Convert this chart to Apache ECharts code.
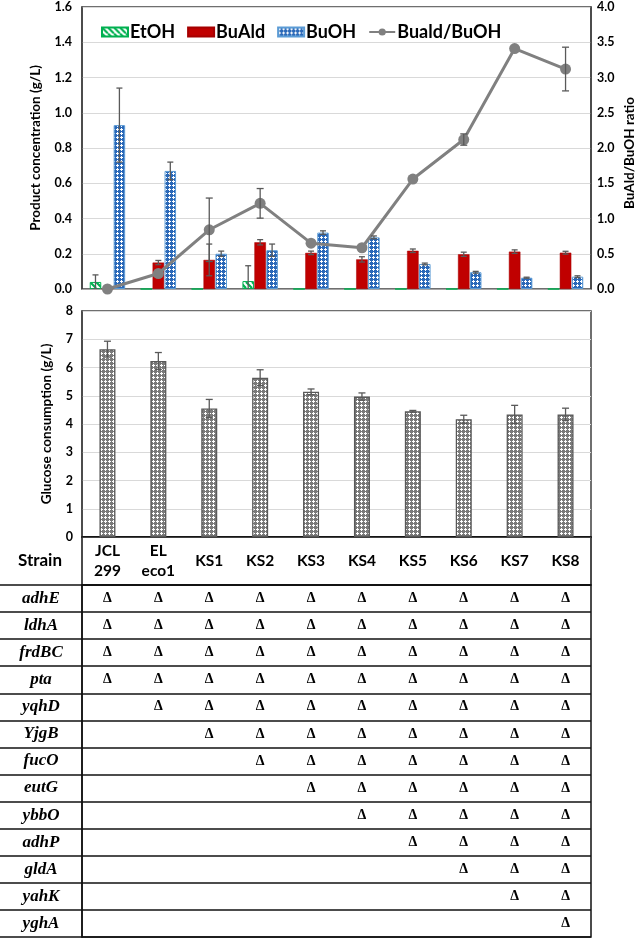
<!DOCTYPE html>
<html><head><meta charset="utf-8">
<script src="https://cdn.jsdelivr.net/npm/echarts@6/dist/echarts.min.js"></script>
<style>html,body{margin:0;padding:0;background:#fff}#c{width:638px;height:938px}</style>
</head><body><div id="c"></div><script>
// ---- data ----
const strains = ['JCL\n299','EL\neco1','KS1','KS2','KS3','KS4','KS5','KS6','KS7','KS8'];
const etoh      = [0.04, 0, 0, 0.045, 0, 0, 0, 0, 0, 0];
const etohErr   = [0.04, 0, 0, 0.087, 0, 0, 0, 0, 0, 0];
const buald     = [0, 0.15, 0.165, 0.265, 0.205, 0.168, 0.217, 0.197, 0.212, 0.206];
const bualdErr  = [0, 0.012, 0.09, 0.015, 0.01, 0.015, 0.01, 0.012, 0.01, 0.008];
const buoh      = [0.93, 0.67, 0.2, 0.22, 0.32, 0.293, 0.142, 0.095, 0.064, 0.07];
const buohErr   = [0.21, 0.05, 0.015, 0.035, 0.01, 0.008, 0.005, 0.005, 0.003, 0.005];
const ratio     = [0, 0.22, 0.84, 1.215, 0.65, 0.585, 1.56, 2.12, 3.41, 3.12];
const ratioErr  = [0, 0, 0.45, 0.21, 0, 0, 0, 0.08, 0, 0.31];
const glucose   = [6.65, 6.23, 4.55, 5.64, 5.14, 4.97, 4.45, 4.17, 4.34, 4.34];
const glucoseErr= [0.28, 0.3, 0.32, 0.28, 0.1, 0.13, 0.03, 0.14, 0.32, 0.22];
const genes = ['adhE','ldhA','frdBC','pta','yqhD','YjgB','fucO','eutG','ybbO','adhP','gldA','yahK','yghA'];
const deletions = [
  [1,1,1,1,1,1,1,1,1,1],
  [1,1,1,1,1,1,1,1,1,1],
  [1,1,1,1,1,1,1,1,1,1],
  [1,1,1,1,1,1,1,1,1,1],
  [0,1,1,1,1,1,1,1,1,1],
  [0,0,1,1,1,1,1,1,1,1],
  [0,0,0,1,1,1,1,1,1,1],
  [0,0,0,0,1,1,1,1,1,1],
  [0,0,0,0,0,1,1,1,1,1],
  [0,0,0,0,0,0,1,1,1,1],
  [0,0,0,0,0,0,0,1,1,1],
  [0,0,0,0,0,0,0,0,1,1],
  [0,0,0,0,0,0,0,0,0,1]
];
const legendNames = ['EtOH','BuAld','BuOH','Buald/BuOH'];

// ---- styles ----
const FONT = 'Lato, "Open Sans", sans-serif';
const SERIF = '"Liberation Serif", "DejaVu Serif", serif';
function makePattern(size, draw){ const c=document.createElement('canvas'); c.width=c.height=size; draw(c.getContext('2d')); return c; }
const stripe = makePattern(6, ctx=>{ ctx.fillStyle='#fff'; ctx.fillRect(0,0,6,6); ctx.strokeStyle='#00B050'; ctx.lineWidth=2.2; ctx.beginPath(); for(const o of [-6,0,6]){ ctx.moveTo(o,0); ctx.lineTo(o+6,6);} ctx.stroke(); });
function lattice(color){ return makePattern(4, ctx=>{ ctx.fillStyle=color; ctx.fillRect(0,0,4,4); ctx.fillStyle='#fff'; [[1,0],[0,1],[1,1],[2,1],[1,2]].forEach(([x,y])=>ctx.fillRect(x,y,1,1)); }); }
const blueLattice = lattice('#2A68B8');
const grayLattice = lattice('#7a7a7a');

const BW = 11.5, GAP = 0.46;
function errSeries(vals, errs, xi, yi, offset, capW){
  return {
    type:'custom', xAxisIndex:xi, yAxisIndex:yi, z:6, silent:true, clip:true,
    data: vals.map((v,i)=>[i, v, errs[i]]),
    encode:{x:0, y:1},
    renderItem(params, api){
      const e = api.value(2); if(!e) return null;
      const i = api.value(0), v = api.value(1);
      const p = api.coord([i, v]), t = api.coord([i, v+e]), b = api.coord([i, v-e]);
      const x = p[0] + offset;
      const style = {stroke:'#595959', lineWidth:1.3};
      return {type:'group', children:[
        {type:'line', shape:{x1:x,y1:t[1],x2:x,y2:b[1]}, style},
        {type:'line', shape:{x1:x-capW/2,y1:t[1],x2:x+capW/2,y2:t[1]}, style},
        {type:'line', shape:{x1:x-capW/2,y1:b[1],x2:x+capW/2,y2:b[1]}, style}
      ]};
    }
  };
}

const tableData = [];
deletions.forEach((row, gi)=>row.forEach((d, si)=>{ if(d) tableData.push([si, gi]); }));

const axisLabelStyle = {color:'#000', fontFamily:FONT, fontWeight:'bold', fontSize:12.5};
const nameStyle = {fontFamily:FONT, fontWeight:'bold', fontSize:13.5, color:'#000'};
const chart = echarts.init(document.getElementById('c'), null, {renderer:'canvas'});
chart.setOption({
  animation:false,
  backgroundColor:'#fff',
  legend:{
    left:96, top:18, itemWidth:26, itemHeight:9, itemGap:12,
    textStyle:{fontFamily:FONT, fontWeight:'bold', fontSize:18, color:'#000', padding:[0,0,0,-3]},
    data:[{name:legendNames[0], icon:'rect'},{name:legendNames[1], icon:'rect'},{name:legendNames[2], icon:'rect'},{name:legendNames[3]}]
  },
  graphic:[
    {type:'text', x:40, y:561, style:{text:'Strain', align:'center', verticalAlign:'middle', font:'bold 17px '+FONT, fill:'#000'}},
    {type:'text', x:630, y:153, rotation:Math.PI/2, style:{text:'BuAld/BuOH ratio', align:'center', verticalAlign:'middle', font:'bold 13.5px '+FONT, fill:'#000'}}
  ],
  grid:[
    {left:82, right:47, top:7, height:282, show:true, borderColor:'#404040', borderWidth:1.5},
    {left:82, right:47, top:311, height:226, show:true, borderColor:'#404040', borderWidth:1.5},
    {left:82, right:47, top:537, height:48, show:true, borderColor:'#111', borderWidth:1.5},
    {left:82, right:47, top:585, bottom:1, show:true, borderColor:'#111', borderWidth:1.5},
    {left:0, width:82, top:585, bottom:1}
  ],
  xAxis:[
    {gridIndex:0, type:'category', data:strains, axisLabel:{show:false}, axisTick:{show:false}, axisLine:{lineStyle:{color:'#A6A6A6'}}},
    {gridIndex:1, type:'category', data:strains, axisTick:{show:false}, axisLine:{lineStyle:{color:'#111', width:1.5}},
     axisLabel:{margin:24, verticalAlign:'middle', color:'#000', fontFamily:FONT, fontWeight:'bold', fontSize:15.5, lineHeight:20}},
    {gridIndex:2, type:'category', data:strains, show:false},
    {gridIndex:3, type:'category', data:strains, show:false},
    {gridIndex:4, type:'category', data:['Strain'], show:false}
  ],
  yAxis:[
    {gridIndex:0, type:'value', min:0, max:1.6, interval:0.2,
     name:'Product concentration (g/L)', nameLocation:'middle', nameGap:39, nameMoveOverlap:false, nameTextStyle:nameStyle,
     axisLabel:Object.assign({formatter:v=>v.toFixed(1), margin:10}, axisLabelStyle),
     axisLine:{show:true, lineStyle:{color:'#404040', width:1.5}}, axisTick:{show:false},
     splitLine:{lineStyle:{color:'#D9D9D9', width:1}}},
    {gridIndex:0, type:'value', min:0, max:4, interval:0.5, position:'right',
     axisLabel:Object.assign({formatter:v=>v.toFixed(1), margin:6}, axisLabelStyle),
     axisLine:{show:true, lineStyle:{color:'#404040', width:1.5}}, axisTick:{show:false},
     splitLine:{show:false}},
    {gridIndex:1, type:'value', min:0, max:8, interval:1,
     name:'Glucose consumption (g/L)', nameLocation:'middle', nameGap:28, nameMoveOverlap:false, nameTextStyle:nameStyle,
     axisLabel:Object.assign({margin:9}, axisLabelStyle),
     axisLine:{show:true, lineStyle:{color:'#404040', width:1.5}}, axisTick:{show:false},
     splitLine:{lineStyle:{color:'#D9D9D9', width:1}}},
    {gridIndex:2, type:'value', show:false},
    {gridIndex:3, type:'category', data:genes, inverse:true,
     axisLine:{show:true, lineStyle:{color:'#111', width:1.5}}, axisTick:{show:false},
     axisLabel:{margin:41, align:'center', color:'#000', fontFamily:SERIF, fontStyle:'italic', fontWeight:'bold', fontSize:17},
     splitLine:{show:true, lineStyle:{color:'#111', width:1.5}}},
    {gridIndex:4, type:'category', data:genes, inverse:true,
     axisLine:{show:false}, axisTick:{show:false}, axisLabel:{show:false},
     splitLine:{show:true, lineStyle:{color:'#111', width:1.5}}}
  ],
  series:[
    {name:'EtOH', type:'bar', xAxisIndex:0, yAxisIndex:0, data:etoh, barWidth:BW, barGap:'4%',
     itemStyle:{color:{image:stripe, repeat:'repeat'}, borderColor:'#00B050', borderWidth:1}},
    {name:'BuAld', type:'bar', xAxisIndex:0, yAxisIndex:0, data:buald, barWidth:BW, barGap:'4%',
     itemStyle:{color:'#C00000', borderColor:'#A50000', borderWidth:0.5}},
    {name:'BuOH', type:'bar', xAxisIndex:0, yAxisIndex:0, data:buoh, barWidth:BW, barGap:'4%',
     itemStyle:{color:{image:blueLattice, repeat:'repeat'}, borderColor:'#5B9BD5', borderWidth:1}},
    errSeries(etoh, etohErr, 0, 0, -(BW+GAP), 6),
    errSeries(buald, bualdErr, 0, 0, 0, 6),
    errSeries(buoh, buohErr, 0, 0, (BW+GAP), 6),
    {name:'Buald/BuOH', type:'line', xAxisIndex:0, yAxisIndex:1, data:ratio, z:4,
     symbol:'circle', symbolSize:11, lineStyle:{color:'#808080', width:3}, itemStyle:{color:'#808080'}},
    Object.assign(errSeries(ratio, ratioErr, 0, 1, 0, 7), {z:7}),
    {type:'bar', xAxisIndex:1, yAxisIndex:2, data:glucose, barWidth:16,
     itemStyle:{color:{image:grayLattice, repeat:'repeat'}, borderColor:'#595959', borderWidth:1.3}},
    errSeries(glucose, glucoseErr, 1, 2, 0, 7),
    {type:'scatter', xAxisIndex:3, yAxisIndex:4, data:tableData, symbolSize:1, itemStyle:{color:'rgba(0,0,0,0)'}, silent:true,
     label:{show:true, position:'inside', formatter:'Δ', color:'#000', opacity:1, fontFamily:SERIF, fontWeight:'bold', fontSize:14}}
  ]
});
</script></body></html>
